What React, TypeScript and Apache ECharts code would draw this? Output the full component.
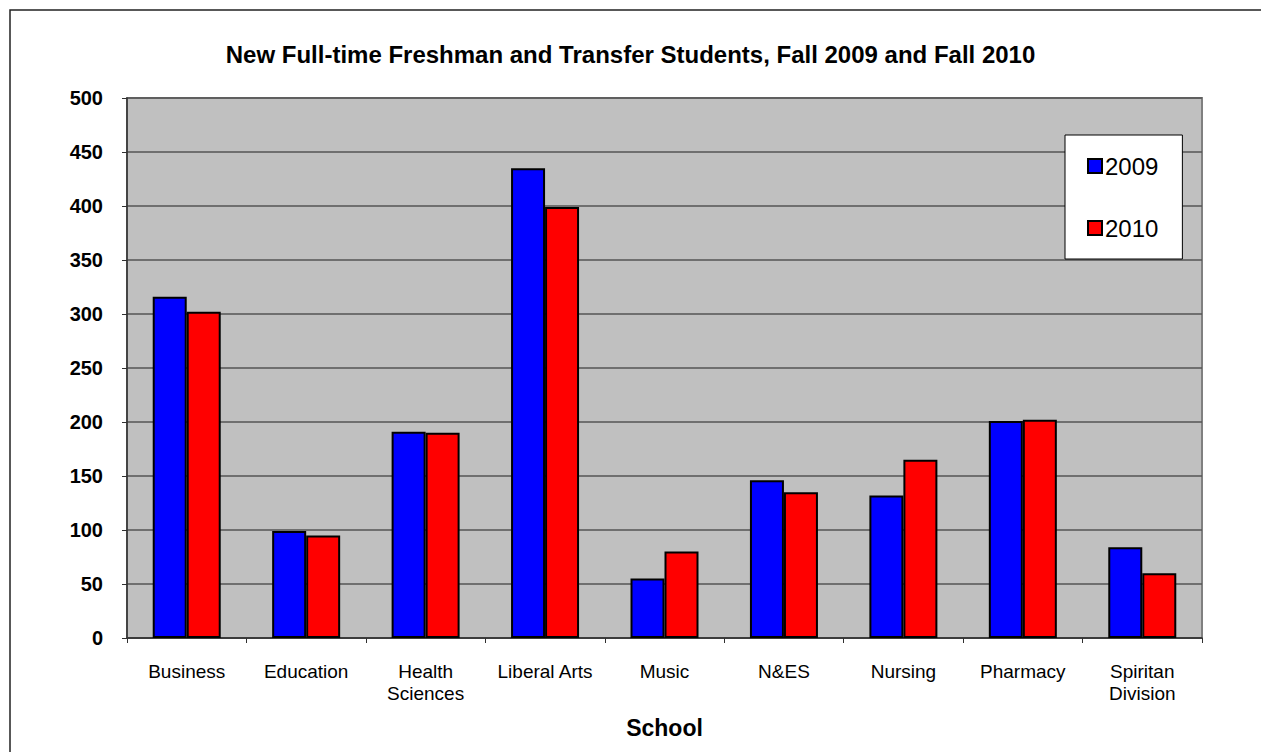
import React, { useEffect, useRef } from "react";
import * as echarts from "echarts";

const categories = [
  "Business",
  "Education",
  "Health\nSciences",
  "Liberal Arts",
  "Music",
  "N&ES",
  "Nursing",
  "Pharmacy",
  "Spiritan\nDivision",
];
const values2009 = [316, 99, 191, 435, 55, 146, 132, 201, 84];
const values2010 = [302, 95, 190, 399, 80, 135, 165, 202, 60];
const seriesNames = ["2009", "2010"];
const chartTitle = "New Full-time Freshman and Transfer Students, Fall 2009 and Fall 2010";
const xAxisName = "School";

const FONT = "'Liberation Sans', Arial, sans-serif";

export default function App() {
  const ref = useRef<HTMLDivElement>(null);
  useEffect(() => {
    if (!ref.current) return;
    const chart = echarts.init(ref.current, null, { renderer: "svg" });
    chart.setOption({
      animation: false,
      backgroundColor: "#ffffff",
      title: {
        text: chartTitle,
        left: "center",
        top: 37,
        textStyle: { fontFamily: FONT, fontSize: 24, fontWeight: "bold", color: "#000" },
      },
      graphic: [
        {
          type: "rect",
          shape: { x: 10, y: 10, width: 1400, height: 900 },
          style: { fill: "none", stroke: "#222", lineWidth: 1.5 },
          silent: true,
          z: 100,
        },
      ],
      legend: {
        orient: "vertical",
        left: 1065,
        top: 135,
        padding: [19, 24, 19, 22],
        itemGap: 38,
        itemWidth: 14,
        itemHeight: 14,
        backgroundColor: "#ffffff",
        borderColor: "#000",
        borderWidth: 1,
        icon: "rect",
        textStyle: { fontFamily: FONT, fontSize: 24, lineHeight: 24, color: "#000", padding: [0, 0, 0, -2] },
        data: seriesNames,
      },
      grid: {
        left: 127,
        top: 98,
        width: 1075,
        height: 540,
        show: true,
        backgroundColor: "#C0C0C0",
        borderColor: "#808080",
        borderWidth: 2,
      },
      xAxis: {
        type: "category",
        data: categories,
        name: xAxisName,
        nameLocation: "middle",
        nameGap: 78,
        nameTextStyle: { fontFamily: FONT, fontSize: 23, fontWeight: "bold", color: "#000" },
        axisLine: { lineStyle: { color: "#303030", width: 1.5 } },
        axisTick: { show: true, alignWithLabel: false, length: 5, lineStyle: { color: "#303030" } },
        axisLabel: {
          fontFamily: FONT,
          fontSize: 19,
          lineHeight: 22,
          color: "#000",
          margin: 22,
          interval: 0,
        },
      },
      yAxis: {
        type: "value",
        min: 0,
        max: 500,
        interval: 50,
        axisLine: { show: true, lineStyle: { color: "#303030", width: 1.5 } },
        axisTick: { show: true, length: 5, lineStyle: { color: "#303030" } },
        splitLine: { lineStyle: { color: "#555555", width: 1.5 } },
        axisLabel: {
          fontFamily: FONT,
          fontSize: 20,
          fontWeight: "bold",
          color: "#000",
          margin: 24,
        },
      },
      series: [
        {
          name: seriesNames[0],
          type: "bar",
          data: values2009,
          barWidth: 34,
          barGap: "0%",
          itemStyle: { color: "#0000FF", borderColor: "#000", borderWidth: 2 },
        },
        {
          name: seriesNames[1],
          type: "bar",
          data: values2010,
          barWidth: 34,
          barGap: "0%",
          itemStyle: { color: "#FF0000", borderColor: "#000", borderWidth: 2 },
        },
      ],
    });
    return () => chart.dispose();
  }, []);
  return (
    <div
      ref={ref}
      style={{ position: "absolute", left: 0, top: 0, width: 1261, height: 752 }}
    />
  );
}
